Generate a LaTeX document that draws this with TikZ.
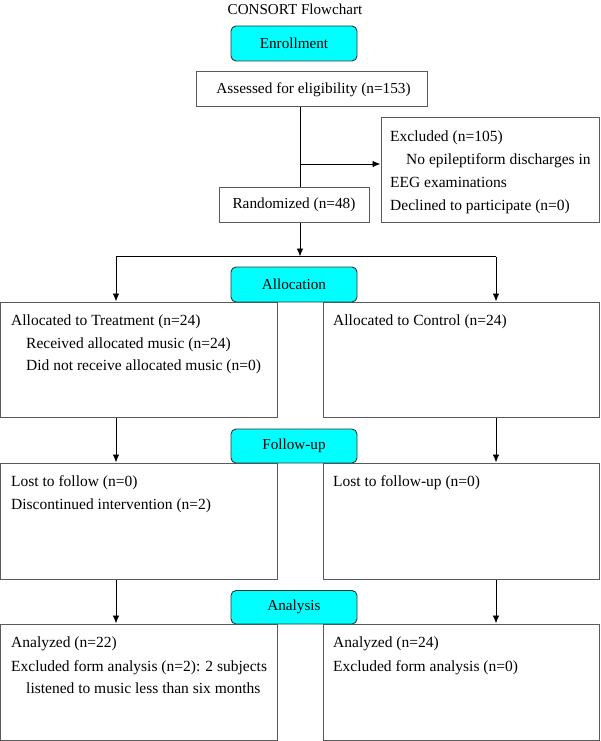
\documentclass[tikz,border=0pt]{standalone}
\usepackage{fontspec}
\setmainfont{Liberation Serif}
\usetikzlibrary{arrows.meta}
\definecolor{stagecyan}{RGB}{0,255,255}
\definecolor{boxline}{RGB}{90,90,90}
\tikzset{
  stagebox/.style={draw=black!80, fill=stagecyan, rounded corners=5pt, line width=0.9pt,
    minimum width=126pt, inner sep=0pt, font=\fontsize{15.2}{18}\selectfont},
  panel/.style={draw=boxline, line width=1pt, inner sep=0pt},
  txt/.style={inner sep=0pt, anchor=base west, font=\fontsize{15.5}{18}\selectfont},
  ctxt/.style={inner sep=0pt, font=\fontsize{15.3}{18}\selectfont},
  conn/.style={draw=black, line width=0.9pt},
  arr/.style={conn, -{Latex[length=8pt,width=6.5pt]}}
}
\begin{document}
\begin{tikzpicture}[x=1pt,y=-1pt]
\useasboundingbox (0,0) rectangle (600,741);
% title
\node[ctxt, font=\fontsize{15.1}{18}\selectfont] (title) at (295,9) {CONSORT Flowchart};
% enrollment section
\node[stagebox, minimum height=35pt] (enr) at (294,43.5) {Enrollment};
\node[panel, minimum width=231pt, minimum height=35pt] (ass) at (311.5,89.5) {};
\node[ctxt] (asst) at (313.5,89.5) {Assessed for eligibility (n=153)};
\node[panel, minimum width=218pt, minimum height=104pt] (exc) at (490,170) {};
\node[txt] (e1) at (390,142) {Excluded (n=105)};
\node[txt] (e2) at (406,164) {No epileptiform discharges in};
\node[txt] (e3) at (390,187) {EEG examinations};
\node[txt] (e4) at (390,210) {Declined to participate (n=0)};
\node[panel, minimum width=150pt, minimum height=35pt] (rand) at (294,204.5) {};
\node[ctxt] (randt) at (rand.center) {Randomized (n=48)};
% coordinates for connector lines
\coordinate (mx) at (300,0);
\coordinate (br) at (300,164);
\coordinate (split) at (300,256.5);
\coordinate (lx) at (116,0);
\coordinate (rx) at (496,0);
% rows of panels
\node[panel, minimum width=276.5pt, minimum height=115pt] (r1l) at (138.75,359.5) {};
\node[panel, minimum width=276.5pt, minimum height=115pt] (r1r) at (461.25,359.5) {};
\node[panel, minimum width=276.5pt, minimum height=116pt] (r2l) at (138.75,521) {};
\node[panel, minimum width=276.5pt, minimum height=116pt] (r2r) at (461.25,521) {};
\node[panel, minimum width=276.5pt, minimum height=116.5pt] (r3l) at (138.75,682.25) {};
\node[panel, minimum width=276.5pt, minimum height=116.5pt] (r3r) at (461.25,682.25) {};
\node[stagebox, minimum height=35pt] (alloc) at (294,284.5) {Allocation};
\node[stagebox, minimum height=34pt] (fol) at (294,446) {Follow-up};
\node[stagebox, minimum height=33.5pt] (ana) at (294,607.25) {Analysis};
% row texts
\node[txt] (a1) at (11,325) {Allocated to Treatment (n=24)};
\node[txt] (a2) at (26,348) {Received allocated music (n=24)};
\node[txt] (a3) at (26,370) {Did not receive allocated music (n=0)};
\node[txt] (a4) at (333,325) {Allocated to Control (n=24)};
\node[txt] (f1) at (11,486) {Lost to follow (n=0)};
\node[txt] (f2) at (11,509) {Discontinued intervention (n=2)};
\node[txt] (f3) at (333,486) {Lost to follow-up (n=0)};
\node[txt] (n1) at (11,647) {Analyzed (n=22)};
\node[txt] (n2) at (11,671) {Excluded form analysis (n=2): 2 subjects};
\node[txt] (n3) at (26,693) {listened to music less than six months};
\node[txt] (n4) at (333,647) {Analyzed (n=24)};
\node[txt] (n5) at (333,671) {Excluded form analysis (n=0)};
% connectors
\draw[conn] (ass.south -| mx) -- (rand.north -| mx);
\draw[arr] (br) -- (br -| exc.west);
\draw[arr] (rand.south -| mx) -- (split);
\draw[conn] (split -| lx) -- (split -| rx);
\draw[arr] (split -| lx) -- (r1l.north -| lx);
\draw[arr] (split -| rx) -- (r1r.north -| rx);
\draw[arr] (r1l.south -| lx) -- (r2l.north -| lx);
\draw[arr] (r1r.south -| rx) -- (r2r.north -| rx);
\draw[arr] (r2l.south -| lx) -- (r3l.north -| lx);
\draw[arr] (r2r.south -| rx) -- (r3r.north -| rx);
\end{tikzpicture}
\end{document}
